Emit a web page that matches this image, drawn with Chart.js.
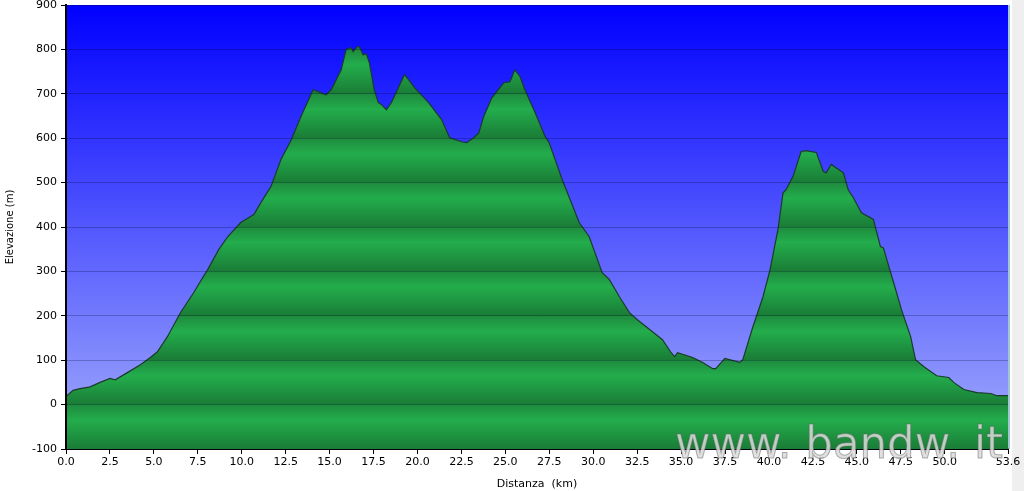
<!DOCTYPE html>
<html lang="it">
<head>
    <meta charset="UTF-8">
    <title>Profilo altimetrico</title>
    <script src="https://cdn.jsdelivr.net/npm/chart.js"></script>
    <style>
        html, body {
            margin: 0;
            padding: 0;
            background: #ffffff;
        }
        .wrap {
            position: relative;
            width: 1024px;
            height: 491px;
        }
        .strip {
            position: absolute;
            left: 1012px;
            top: 0;
            width: 12px;
            height: 491px;
            background: #efefef;
        }
        canvas {
            position: absolute;
            left: 0;
            top: 0;
        }
    </style>
</head>
<body>
    <div class="wrap">
        <div class="strip"></div>
        <canvas id="profile" width="1024" height="491"></canvas>
    </div>

    <script>
        // distanza (km) e quota (m)
        const distanceKm = [
            0.00, 0.40, 0.80, 1.37, 1.94, 2.51, 2.80, 3.49, 4.23, 4.80,
            5.20, 5.77, 6.51, 7.26, 8.06, 8.69, 9.20, 9.94, 10.69, 11.09,
            11.66, 12.23, 12.80, 13.37, 14.06, 14.34, 14.80, 15.09, 15.66, 15.94,
            16.23, 16.34, 16.57, 16.69, 16.91, 17.09, 17.26, 17.54, 17.77, 17.94,
            18.23, 18.51, 19.26, 19.49, 19.83, 20.63, 21.37, 21.83, 22.51, 22.80,
            23.20, 23.49, 23.77, 24.23, 24.69, 24.91, 25.26, 25.54, 25.83, 26.11,
            26.69, 27.26, 27.49, 28.23, 29.20, 29.77, 30.51, 30.91, 31.49, 32.06,
            32.51, 33.37, 33.94, 34.40, 34.63, 34.80, 35.66, 36.23, 36.80, 36.97,
            37.49, 38.34, 38.51, 39.09, 39.66, 40.06, 40.51, 40.80, 40.97, 41.37,
            41.83, 42.11, 42.69, 43.09, 43.26, 43.54, 44.23, 44.51, 44.80, 45.26,
            45.94, 46.34, 46.51, 47.26, 47.54, 48.06, 48.34, 48.80, 49.54, 50.23,
            50.51, 51.09, 51.83, 52.63, 52.97, 53.60
        ];
        const elevationM = [
            18, 32, 36, 40, 50, 59, 56, 72, 90, 106,
            119, 153, 207, 252, 304, 349, 378, 410, 428, 455,
            491, 552, 595, 649, 709, 705, 698, 709, 754, 800,
            804, 795, 806, 806, 788, 790, 770, 709, 680, 676,
            664, 680, 743, 732, 714, 680, 642, 601, 592, 590,
            601, 612, 649, 691, 714, 725, 727, 754, 739, 709,
            658, 604, 590, 507, 410, 378, 297, 282, 243, 207,
            191, 164, 146, 119, 108, 117, 106, 95, 81, 81,
            104, 95, 101, 176, 243, 304, 394, 477, 484, 514,
            570, 572, 568, 525, 522, 541, 522, 484, 466, 432,
            417, 356, 353, 252, 214, 153, 101, 86, 65, 61,
            50, 34, 27, 25, 20, 20
        ];
        const xTickValues = [0, 2.5, 5, 7.5, 10, 12.5, 15, 17.5, 20, 22.5, 25, 27.5,
            30, 32.5, 35, 37.5, 40, 42.5, 45, 47.5, 50, 53.6];
        const yTickValues = [-100, 0, 100, 200, 300, 400, 500, 600, 700, 800, 900];

        const points = distanceKm.map((d, i) => ({ x: d, y: elevationM[i] }));

        // sfondo blu sfumato dell'area del grafico
        const skyPlugin = {
            id: 'sky',
            beforeDraw(chart) {
                const { ctx, chartArea: a } = chart;
                const g = ctx.createLinearGradient(0, a.top, 0, a.bottom);
                g.addColorStop(0, '#0000ff');
                g.addColorStop(1, '#a4aefc');
                ctx.save();
                ctx.fillStyle = g;
                ctx.fillRect(a.left, a.top, a.right - a.left, a.bottom - a.top);
                ctx.restore();
            },
            afterDraw(chart) {
                const { ctx, chartArea: a } = chart;
                ctx.save();
                ctx.strokeStyle = '#7fb3c4';
                ctx.lineWidth = 1.5;
                ctx.beginPath();
                ctx.moveTo(a.right + 1, a.top);
                ctx.lineTo(a.right + 1, a.bottom);
                ctx.stroke();

                // scritta in filigrana
                const text = 'www. bandw. it';
                ctx.font = '44px "DejaVu Sans"';
                const w = ctx.measureText(text).width;
                ctx.translate(675, 458);
                ctx.scale(328 / w, 1);
                ctx.fillStyle = 'rgba(218, 218, 218, 0.85)';
                ctx.strokeStyle = 'rgba(100, 100, 100, 0.5)';
                ctx.lineWidth = 1;
                ctx.fillText(text, 0, 0);
                ctx.strokeText(text, 0, 0);
                ctx.restore();
            }
        };

        // riempimento verde a bande, ripetuto ogni 100 m
        function greenBands(context) {
            const chart = context.chart;
            const a = chart.chartArea;
            if (!a) return '#22a84a';
            const y = chart.scales.y;
            const g = chart.ctx.createLinearGradient(0, a.top, 0, a.bottom);
            const h = a.bottom - a.top;
            for (let v = 900; v > -100; v -= 100) {
                const t0 = (y.getPixelForValue(v) - a.top) / h;
                const t1 = (y.getPixelForValue(v - 100) - a.top) / h;
                const span = t1 - t0;
                g.addColorStop(Math.max(0, t0), '#1e8b3e');
                g.addColorStop(t0 + span * 0.35, '#23ad4c');
                g.addColorStop(Math.min(1, t1 - 0.0005), '#1a7c36');
            }
            return g;
        }

        new Chart(document.getElementById('profile'), {
            type: 'line',
            data: {
                datasets: [{
                    data: points,
                    borderColor: '#1c3a2c',
                    borderWidth: 1.2,
                    backgroundColor: greenBands,
                    fill: 'start',
                    pointRadius: 0,
                    tension: 0
                }]
            },
            options: {
                responsive: false,
                animation: false,
                layout: {
                    autoPadding: false,
                    padding: { top: 0, right: 16, left: 0, bottom: 0 }
                },
                plugins: {
                    legend: { display: false },
                    tooltip: { enabled: false }
                },
                scales: {
                    x: {
                        type: 'linear',
                        min: 0,
                        max: 53.6,
                        afterBuildTicks: s => { s.ticks = xTickValues.map(v => ({ value: v })); },
                        afterFit: s => { s.height = 42; },
                        ticks: {
                            color: '#000',
                            font: { family: 'DejaVu Sans', size: 11 },
                            padding: 2,
                            maxRotation: 0,
                            autoSkip: false,
                            callback: v => v.toFixed(1)
                        },
                        grid: {
                            drawOnChartArea: false,
                            drawTicks: true,
                            tickLength: 5,
                            tickColor: '#000'
                        },
                        border: { display: true, color: '#000', width: 2 },
                        title: {
                            display: true,
                            text: 'Distanza  (km)',
                            color: '#000',
                            font: { family: 'DejaVu Sans', size: 11 },
                            padding: { top: 4, bottom: 0 }
                        }
                    },
                    y: {
                        min: -100,
                        max: 900,
                        afterBuildTicks: s => { s.ticks = yTickValues.map(v => ({ value: v })); },
                        afterFit: s => {
                            s.width = 66;
                            s.paddingTop = 5;
                        },
                        ticks: {
                            color: '#000',
                            font: { family: 'DejaVu Sans', size: 11 },
                            padding: 4
                        },
                        grid: {
                            z: 1,
                            color: 'rgba(0, 0, 40, 0.25)',
                            lineWidth: 1,
                            drawTicks: true,
                            tickLength: 5,
                            tickColor: '#000'
                        },
                        border: { display: true, color: '#000', width: 2, z: 1 },
                        title: {
                            display: true,
                            text: 'Elevazione (m)',
                            color: '#000',
                            font: { family: 'DejaVu Sans', size: 10 },
                            padding: { top: 4, bottom: 4 }
                        }
                    }
                }
            },
            plugins: [skyPlugin]
        });
    </script>
</body>
</html>
